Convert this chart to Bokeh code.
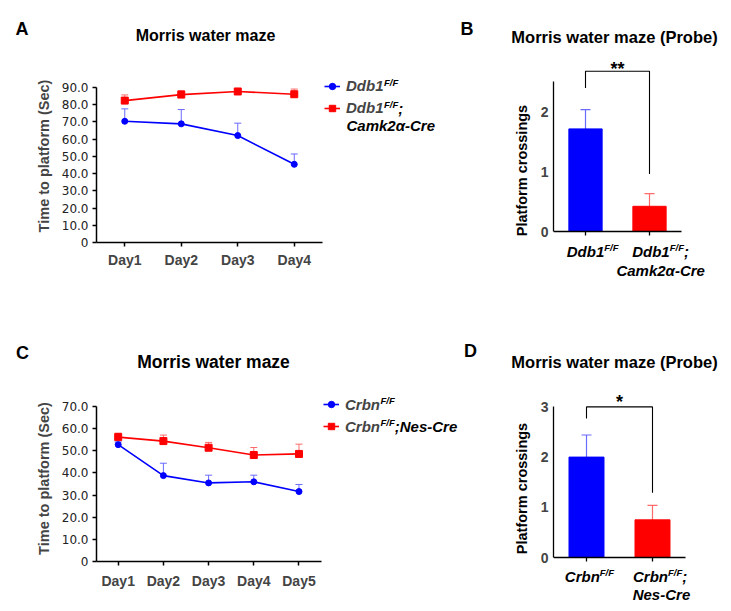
from bokeh.plotting import figure
from bokeh.models import (Range1d, FixedTicker, PrintfTickFormatter, Label, Whisker,
                          TeeHead, ColumnDataSource, Legend, LegendItem, Title)
from bokeh.core.properties import value
from bokeh.layouts import row, column
from bokeh.embed import file_html
from bokeh.resources import INLINE

# ---------------- data ----------------
days_a = ["Day1", "Day2", "Day3", "Day4"]
ddb1_ff = [70.4, 68.9, 62.1, 45.4]
ddb1_ff_err = [7.2, 8.3, 7.2, 6.0]
ddb1_cre = [82.4, 85.9, 87.7, 86.1]
ddb1_cre_err = [3.3, 2.3, 1.3, 3.0]
yticks_a = [0, 10, 20, 30, 40, 50, 60, 70, 80, 90]

probe_b = [1.71, 0.42]
probe_b_err = [0.32, 0.21]
yticks_b = [0, 1, 2]
sig_b = "**"
bracket_b = [2.39, 2.67, 0.96]   # left leg end, bracket top, right leg end

days_c = ["Day1", "Day2", "Day3", "Day4", "Day5"]
crbn_ff = [52.8, 38.8, 35.5, 36.0, 31.6]
crbn_ff_err = [1.2, 5.6, 3.5, 3.0, 3.2]
crbn_cre = [56.2, 54.4, 51.4, 48.1, 48.6]
crbn_cre_err = [1.8, 2.7, 2.4, 3.4, 4.4]
yticks_c = [0, 10, 20, 30, 40, 50, 60, 70]

probe_d = [2.0, 0.75]
probe_d_err = [0.44, 0.29]
yticks_d = [0, 1, 2, 3]
sig_d = "*"
bracket_d = [2.77, 3.0, 1.29]

# ---------------- style ----------------
BLUE, RED = "#0000FF", "#FF0000"
BLUE_ERR, RED_ERR = "#6A6AFF", "#FF6A6A"
FONT = "Liberation Sans"

W = {'D': 722, 'd': 611, 'b': 611, '1': 556, '2': 556, 'C': 722, 'r': 389, 'n': 611,
     'F': 611, '/': 278, ';': 333, 'a': 556, 'm': 889, 'k': 556, 'α': 600, '-': 333,
     'e': 556, 'N': 722, 's': 556, ' ': 278}


def tw(s, size):
    return sum(W.get(c, 556) for c in s) * size / 1000.0


def make_fig(w, h, bl, bt, bb, xr, yr):
    p = figure(width=w, height=h, x_range=Range1d(*xr), y_range=Range1d(*yr),
               output_backend="svg", toolbar_location=None,
               min_border_left=bl, min_border_right=0, min_border_top=bt, min_border_bottom=bb)
    p.outline_line_color = None
    p.xgrid.visible = False
    p.ygrid.visible = False
    p.background_fill_color = "white"
    p.border_fill_color = "white"
    return p


def header(w, h):
    p = figure(width=w, height=h, x_range=Range1d(0, w), y_range=Range1d(0, h),
               output_backend="svg", toolbar_location=None, min_border=0,
               x_axis_location=None, y_axis_location=None)
    p.outline_line_color = None
    p.grid.visible = False
    p.border_fill_color = "white"
    return p


def style_axis(ax, width=1.5):
    ax.axis_line_color = "black"
    ax.axis_line_width = width
    ax.major_tick_line_color = "black"
    ax.major_tick_line_width = width
    ax.minor_tick_line_color = None
    ax.major_tick_in = 0


def add_text(p, x, y, text, size):
    p.add_layout(Label(x=x, y=y, x_units="screen", y_units="screen", text=text,
                       text_font=FONT, text_font_size=f"{size}px", text_font_style="bold",
                       text_align="center", text_baseline="middle", text_color="black"))


def rich(p, x, x_units, yc, parts, start=0.0, size=15, sup=9.5, raise_=4):
    off = start
    for txt, is_sup in parts:
        fs = sup if is_sup else size
        p.add_layout(Label(x=x, y=yc, x_units=x_units, y_units="screen", x_offset=off,
                           y_offset=raise_ if is_sup else 0, text=txt, text_font=FONT,
                           text_font_style="bold italic", text_font_size=f"{fs}px",
                           text_align="left", text_baseline="middle", text_color="black"))
        off += tw(txt, fs)


def line_panel(p, days, ctrl, ctrl_err, cko, cko_err, yticks):
    xs = list(range(1, len(days) + 1))
    rends = []
    for vals, errs, col, ecol, mk, sz in [(ctrl, ctrl_err, BLUE, BLUE_ERR, "circle", 6),
                                          (cko, cko_err, RED, RED_ERR, "square", 7)]:
        src = ColumnDataSource(dict(x=xs, y=vals, top=[v + e for v, e in zip(vals, errs)]))
        p.add_layout(Whisker(base="x", upper="top", lower="y", source=src, dimension="height",
                             line_color=ecol, line_width=1, lower_head=None,
                             upper_head=TeeHead(size=7, line_color=ecol, line_width=1)))
        l = p.line("x", "y", source=src, line_color=col, line_width=1.6)
        s = p.scatter("x", "y", source=src, marker=mk, size=sz, fill_color=col, line_color=col)
        rends.append((l, s))
    p.yaxis.ticker = FixedTicker(ticks=yticks)
    p.yaxis.formatter = PrintfTickFormatter(format="%.1f")
    p.yaxis.major_label_overrides = {0: "0"}
    p.yaxis.bounds = (0, yticks[-1])
    p.yaxis.major_label_text_font = "DejaVu Sans"
    p.yaxis.major_label_text_font_size = "12px"
    p.yaxis.major_label_text_color = "#222222"
    p.yaxis.major_tick_out = 4
    p.yaxis.major_label_standoff = 4
    p.yaxis.axis_label = "Time to platform (Sec)"
    p.yaxis.axis_label_text_font = FONT
    p.yaxis.axis_label_text_font_style = "bold"
    p.yaxis.axis_label_text_font_size = "14.5px"
    p.yaxis.axis_label_standoff = 7
    p.xaxis.ticker = FixedTicker(ticks=xs)
    p.xaxis.major_label_overrides = {x: d for x, d in zip(xs, days)}
    p.xaxis.major_label_text_font = FONT
    p.xaxis.major_label_text_font_style = "bold"
    p.xaxis.major_label_text_font_size = "14px"
    p.xaxis.major_tick_out = 4
    style_axis(p.xaxis[0])
    style_axis(p.yaxis[0])
    return rends


def bar_panel(p, vals, errs, yticks, width, ybound, title_offset):
    xs = list(range(1, len(vals) + 1))
    cols = [BLUE, RED]
    ecols = [BLUE_ERR, RED_ERR]
    p.vbar(x=xs, top=vals, width=width, fill_color=cols, line_color=cols)
    for x, v, e, ec in zip(xs, vals, errs, ecols):
        src = ColumnDataSource(dict(x=[x], y=[v], top=[v + e]))
        p.add_layout(Whisker(base="x", upper="top", lower="y", source=src, dimension="height",
                             line_color=ec, line_width=1.2, lower_head=None,
                             upper_head=TeeHead(size=10, line_color=ec, line_width=1.2)))
    p.yaxis.ticker = FixedTicker(ticks=yticks)
    p.yaxis.bounds = (0, ybound)
    p.yaxis.major_label_text_font = FONT
    p.yaxis.major_label_text_font_style = "bold"
    p.yaxis.major_label_text_font_size = "14px"
    p.yaxis.major_tick_out = 0
    p.yaxis.major_label_standoff = 5
    p.add_layout(Title(text="Platform crossings", align="center", offset=title_offset,
                       vertical_align="middle", standoff=13, text_font=FONT,
                       text_font_style="bold", text_font_size="14.5px", text_color="black"), "left")
    p.xaxis.ticker = FixedTicker(ticks=xs)
    p.xaxis.major_label_overrides = {x: "" for x in xs}
    p.xaxis.major_label_text_font_size = "1px"
    p.xaxis.major_label_standoff = 0
    p.xaxis.fixed_location = 0
    p.xaxis.bounds = (0.5, len(xs) + 0.5)
    p.xaxis.major_tick_out = 4
    style_axis(p.xaxis[0], 1.3)
    style_axis(p.yaxis[0], 1.3)
    return xs


def bracket(p, xs, br, sig, yoff):
    p.line(x=[xs[0], xs[0], xs[1], xs[1]], y=[br[0], br[1], br[1], br[2]],
           line_color="black", line_width=1.1)
    p.add_layout(Label(x=(xs[0] + xs[1]) / 2, y=br[1], text=sig, text_align="center",
                       text_baseline="middle", y_offset=yoff, text_font=FONT,
                       text_font_style="bold", text_font_size="18px", text_color="black"))


def legend(p, labels, rends, loc):
    items = [LegendItem(label=value(lbl), renderers=list(r)) for lbl, r in zip(labels, rends)]
    lg = Legend(items=items, location=loc, glyph_width=16, glyph_height=20, label_height=20,
                label_width=20, spacing=2, padding=0, margin=0, label_standoff=6,
                label_text_font=FONT, label_text_font_style="bold italic",
                label_text_font_size="15px", border_line_color=None, background_fill_alpha=0)
    p.add_layout(lg)


# ---------------- headers ----------------
hA = header(458, 50)
add_text(hA, 21.5, 50 - 28.5, "A", 18)
add_text(hA, 205, 50 - 35, "Morris water maze", 16)
hB = header(265, 50)
add_text(hB, 466.5 - 458, 50 - 28.5, "B", 18)
add_text(hB, 614 - 458, 50 - 36, "Morris water maze (Probe)", 16.5)
hC = header(458, 75)
add_text(hC, 22, 375 - 352, "C", 18)
add_text(hC, 213, 375 - 361, "Morris water maze", 17.5)
hD = header(265, 75)
add_text(hD, 470 - 458, 375 - 350.5, "D", 18)
add_text(hD, 614 - 458, 375 - 361, "Morris water maze (Probe)", 16.5)

# ---------------- Panel A ----------------
flA, fbA = 96, 242
pA = make_fig(458, 250, 96, 19, 58, (0.5, 0.5 + 362 / 56.5), (0, 173 / 1.722))
rA = line_panel(pA, days_a, ddb1_ff, ddb1_ff_err, ddb1_cre, ddb1_cre_err, yticks_a)
pA.xaxis.bounds = (0.5, len(days_a) + 0.5)
pA.xaxis.major_label_standoff = 5
legend(pA, ["Ddb1", "Ddb1"], rA, (228, 124.3))
xs_sup = 346 + tw("Ddb1", 15) - flA
rich(pA, xs_sup, "screen", fbA - 85.7, [("F/F", True)])
rich(pA, xs_sup, "screen", fbA - 107.7, [("F/F", True), (";", False)])
rich(pA, 346 - flA, "screen", fbA - 125, [("Camk2α-Cre", False)])

# ---------------- Panel B ----------------
fbB = 290
pB = make_fig(265, 250, 95, 0, 10, (0.5, 0.5 + 170 / 64), (-(290 - 231) / 60, (231 - 50) / 60))
xb = bar_panel(pB, probe_b, probe_b_err, yticks_b, 0.52, 2.5, 14)
bracket(pB, xb, bracket_b, sig_b, 2.7)
rich(pB, xb[0], "data", fbB - 251, [("Ddb1", False), ("F/F", True)], start=-tw("Ddb1", 15) / 2)
rich(pB, xb[1], "data", fbB - 251, [("Ddb1", False), ("F/F", True), (";", False)], start=-17.3)
rich(pB, xb[1], "data", fbB - 270, [("Camk2α-Cre", False)], start=11 - tw("Camk2α-Cre", 15) / 2)

# ---------------- Panel C ----------------
flC, fbC = 96, 561
pC = make_fig(458, 236, 96, 20, 50, (0.52, 0.52 + 362 / 45.2), (0, 166 / 2.2135))
rC = line_panel(pC, days_c, crbn_ff, crbn_ff_err, crbn_cre, crbn_cre_err, yticks_c)
pC.xaxis.bounds = (0.52, len(days_c) + 0.5)
pC.xaxis.major_label_standoff = 7
legend(pC, ["Crbn", "Crbn"], rC, (227, 124.7))
xs_sup_c = 345 + tw("Crbn", 15) - flC
rich(pC, xs_sup_c, "screen", fbC - 404.3, [("F/F", True)])
rich(pC, xs_sup_c, "screen", fbC - 426.3, [("F/F", True), (";Nes-Cre", False)])

# ---------------- Panel D ----------------
fbD = 601
pD = make_fig(265, 236, 95, 0, 10, (0.5, 0.5 + 170 / 66), (-(601 - 557) / 50.2, (557 - 375) / 50.2))
xd = bar_panel(pD, probe_d, probe_d_err, yticks_d, 0.53, 3, 8)
bracket(pD, xd, bracket_d, sig_d, 4.5)
rich(pD, xd[0], "data", fbD - 576, [("Crbn", False), ("F/F", True)], start=-21.7)
rich(pD, xd[1], "data", fbD - 576, [("Crbn", False), ("F/F", True), (";", False)], start=-19.5)
rich(pD, xd[1], "data", fbD - 594, [("Nes-Cre", False)], start=-19.8)

left = column(row(hA), row(pA), row(hC), row(pC))
right = column(row(hB), row(pB), row(hD), row(pD))
layout = row(left, right)
open("out.html", "w").write(file_html(layout, INLINE))
